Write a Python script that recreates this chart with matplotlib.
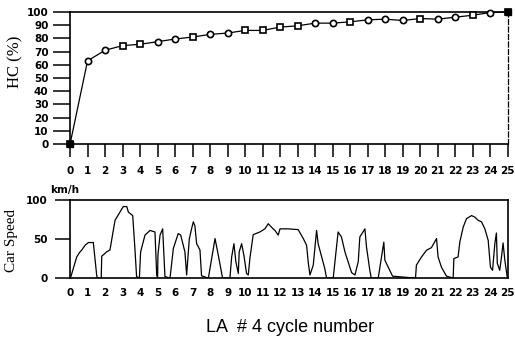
import numpy as np
import matplotlib.pyplot as plt

# HC conversion per LA#4 cycle
cycles = list(range(26))
hc_pct = [0, 63, 71, 74.5, 75.5, 77.5, 79.5, 81, 83, 84, 86, 86, 88.5, 89.5,
          91.5, 91.5, 92.5, 94, 94.5, 93.5, 95, 94.5, 96, 97.5, 99.5, 100]
hc_marker = ['s', 'o', 'o', 's', 's', 'o', 'o', 's', 'o', 'o', 's', 's', 's',
             's', 'o', 'o', 's', 'o', 'o', 'o', 's', 'o', 'o', 's', 'o', 's']

# vehicle speed trace (cycle position, km/h)
speed_t = [0, 0.05, 0.38, 0.55, 0.67, 0.86, 1.05, 1.33, 1.52, 1.56, 1.78, 1.81,
           2.09, 2.28, 2.57, 2.85, 3.04, 3.24, 3.33, 3.58, 3.71, 3.8, 3.96, 4.03,
           4.28, 4.57, 4.85, 4.95, 5.0, 5.02, 5.14, 5.29, 5.42, 5.71, 5.9, 6.18,
           6.32, 6.56, 6.66, 6.81, 6.94, 7.04, 7.13, 7.23, 7.42, 7.51, 7.9, 8.28,
           8.47, 8.71, 9.13, 9.23, 9.36, 9.47, 9.61, 9.66, 9.8, 9.93, 10.08,
           10.18, 10.27, 10.46, 10.84, 11.13, 11.32, 11.51, 11.7, 11.89, 11.99,
           12.46, 13.03, 13.32, 13.51, 13.6, 13.7, 13.89, 14.08, 14.17, 14.37,
           14.55, 14.65, 15.03, 15.31, 15.5, 15.7, 15.88, 16.08, 16.27, 16.46,
           16.55, 16.84, 16.93, 17.12, 17.2, 17.6, 17.79, 17.92, 17.98, 18.17,
           18.42, 19.73, 19.78, 20.07, 20.36, 20.64, 20.93, 21.02, 21.21, 21.5,
           21.88, 21.92, 22.16, 22.26, 22.45, 22.64, 22.93, 23.12, 23.3, 23.5,
           23.69, 23.88, 24.01, 24.13, 24.26, 24.35, 24.4, 24.54, 24.64, 24.73,
           24.83, 24.96, 25]
speed_kmh = [0, 2, 27, 33, 36, 42, 45.5, 45.5, 4, 0, 0, 28,
             33.5, 36, 74, 84.5, 91.5, 91.5, 84.5, 80, 36, 2, 0, 33.5,
             55, 61, 59, 4, 0, 30, 55, 63, 2, 0, 38, 57,
             55, 33.5, 4, 50, 63, 72, 67, 44, 36, 3, 0, 50.6,
             29, 0, 0, 27, 44, 21, 6, 33.5, 44, 29, 6,
             4, 25, 55.6, 59, 63, 69.6, 65, 61, 55, 63,
             63, 62, 50.6, 42, 21, 4, 16.6, 61, 44, 27,
             12, 0, 0, 59, 52.6, 33.5, 21, 7, 4, 21,
             52.6, 63, 40, 10, 0, 0, 27, 46, 23, 14,
             2.5, 0, 16.6, 27, 35.7, 39, 50.6, 27, 14, 2.5,
             0, 25, 27, 46, 65, 76, 80, 78, 74, 72,
             63, 48.4, 14, 10, 44, 57.7, 19, 10, 27, 45,
             23, 2.5, 0]

hc_ticks = list(range(0, 101, 10))
speed_ticks = [0, 50, 100]

tick_font = dict(family='DejaVu Sans', weight='bold', size=7.5)

fig = plt.figure(figsize=(5.15, 3.4), dpi=100)
ax1 = fig.add_axes([0.136, 0.576, 0.850, 0.389])
ax2 = fig.add_axes([0.136, 0.182, 0.850, 0.230])

# upper panel: HC conversion
ax1.plot(cycles, hc_pct, color='black', lw=0.9, clip_on=False, zorder=2)
for m in ('s', 'o'):
    xs = [c for c, mk in zip(cycles, hc_marker) if mk == m]
    ys = [v for v, mk in zip(hc_pct, hc_marker) if mk == m]
    ax1.plot(xs, ys, ls='none', marker=m, ms=4.5, mfc='white', mec='black',
             mew=1.2, clip_on=False, zorder=3)
ax1.plot([0, 25], [0, 100], ls='none', marker='s', ms=4.5, color='black',
         clip_on=False, zorder=4)
ax1.set_xlim(0, 25)
ax1.set_ylim(0, 100)
ax1.set_xticks(cycles)
ax1.set_yticks(hc_ticks)
ax1.tick_params(axis='y', direction='out', length=12, width=1.1, pad=3.5)
ax1.tick_params(axis='x', direction='out', length=9.5, width=1.1, pad=6)
ax1.spines['right'].set_linestyle((0, (4, 2)))
for s in ax1.spines.values():
    s.set_linewidth(1.2)
ax1.spines['right'].set_linewidth(0.9)
for lab in ax1.get_xticklabels() + ax1.get_yticklabels():
    lab.set(**tick_font)

# lower panel: vehicle speed
ax2.plot(speed_t, speed_kmh, color='black', lw=0.9)
ax2.set_xlim(0, 25)
ax2.set_ylim(0, 100)
ax2.set_xticks(cycles)
ax2.set_yticks(speed_ticks)
ax2.tick_params(axis='y', direction='out', length=11, width=1.1, pad=5)
ax2.tick_params(axis='x', length=0, pad=7)
for s in ax2.spines.values():
    s.set_linewidth(1.2)
for lab in ax2.get_xticklabels() + ax2.get_yticklabels():
    lab.set(**tick_font)

fig.text(15 / 515, 1 - 62 / 340, 'HC (%)', rotation=90, ha='center',
         va='center', family='Liberation Serif', fontsize=12)
fig.text(12 / 515, 1 - 240 / 340, 'Car Speed', rotation=90, ha='center',
         va='center', family='Liberation Serif', fontsize=11)
fig.text(50 / 515, 1 - 190 / 340, 'km/h', ha='left', va='center',
         family='DejaVu Sans', weight='bold', fontsize=7.5)
fig.text(290 / 515, 1 - 328 / 340, 'LA  # 4 cycle number', ha='center',
         va='center', family='Liberation Sans', fontsize=13)

fig.savefig('out.png', dpi=100)
